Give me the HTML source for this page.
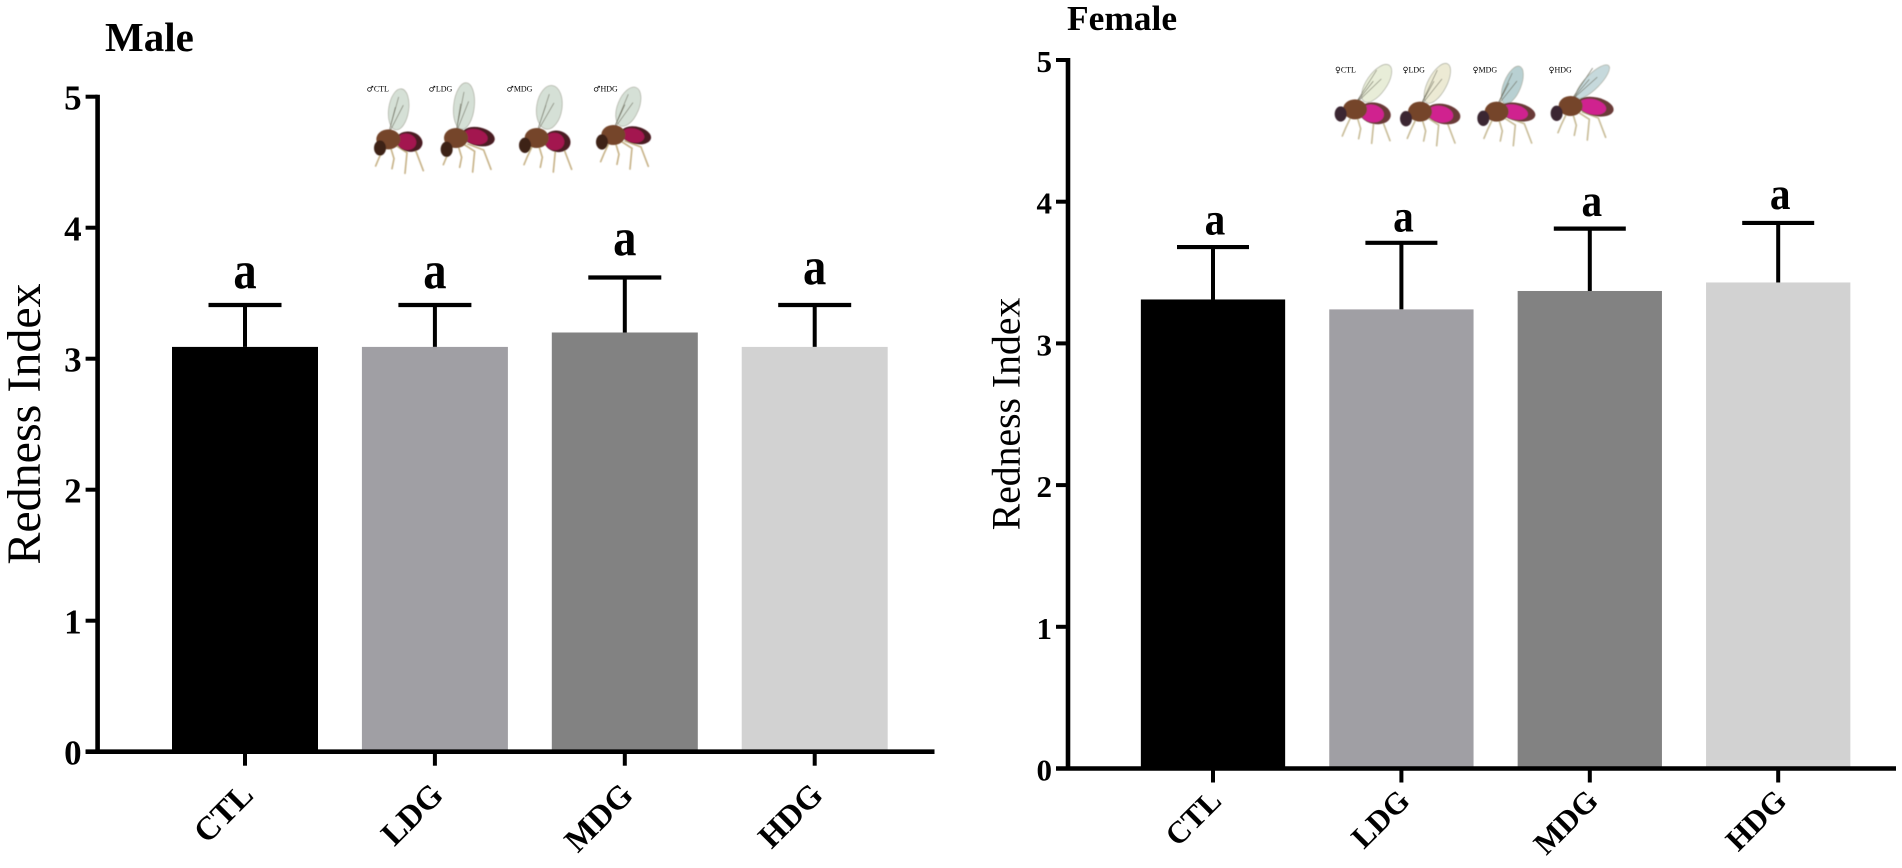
<!DOCTYPE html>
<html lang="en">
<head>
<meta charset="utf-8">
<title>Redness Index - Male and Female</title>
<style>
  html, body { margin: 0; padding: 0; background: #fff; }
  body { width: 1902px; height: 868px; overflow: hidden; }
  svg { display: block; }
  text { font-family: "Liberation Serif", "DejaVu Serif", serif; fill: #000; }
</style>
</head>
<body>
<svg id="figure" xmlns="http://www.w3.org/2000/svg" width="1902" height="868" viewBox="0 0 1902 868">
  <defs>
    <filter id="soft" x="-20%" y="-20%" width="140%" height="140%"><feGaussianBlur stdDeviation="1.5"></feGaussianBlur></filter>
  </defs>
  <g id="male-panel"></g>
  <g id="female-panel"></g>
</svg>
<script>
// Chart data
const categories = ["CTL", "LDG", "MDG", "HDG"];
const yTickLabels = [0, 1, 2, 3, 4, 5];
const barColors = ["#000000", "#a09fa4", "#828282", "#d2d2d2"];
const significanceLetters = ["a", "a", "a", "a"];

const maleValues = [3.09, 3.09, 3.2, 3.09];
const maleErrors = [0.32, 0.32, 0.42, 0.32];
const maleLetterLevels = [3.54, 3.54, 3.79, 3.57];

const femaleValues = [3.31, 3.24, 3.37, 3.43];
const femaleErrors = [0.37, 0.47, 0.44, 0.42];
const femaleLetterLevels = [3.77, 3.79, 3.9, 3.95];

const SVG_NS = "http://www.w3.org/2000/svg";

function el(parent, tag, attrs, content) {
  const node = document.createElementNS(SVG_NS, tag);
  for (const key in attrs) node.setAttribute(key, attrs[key]);
  if (content !== undefined) node.textContent = content;
  parent.appendChild(node);
  return node;
}

function drawPanel(root, cfg) {
  const yScale = v => cfg.y0 + (cfg.y5 - cfg.y0) * v / 5;
  const xScale = i => cfg.firstCenter + cfg.step * i;
  const barX = cfg.barWidth / 2;

  const title = el(root, "text", { x: cfg.titleX, y: cfg.titleY, "font-size": cfg.titleSize, "font-weight": "bold" }, cfg.title);
  
  

  const yTitle = el(root, "text", {
    transform: "translate(" + cfg.yTitleX + "," + cfg.yTitleY + ") rotate(-90)",
    "text-anchor": "middle", "font-size": cfg.yTitleSize
  }, "Redness Index");
  
  

  cfg.values.forEach((value, i) => {
    const cx = xScale(i);

    const errorTop = yScale(value + cfg.errors[i]);
    const stem = el(root, "line", { x1: cx, x2: cx, y1: yScale(value), y2: errorTop, stroke: "#000", "stroke-width": 4 });
    
    

    const cap = el(root, "line", { x1: cx - cfg.capWidth / 2, x2: cx + cfg.capWidth / 2, y1: errorTop, y2: errorTop, stroke: "#000", "stroke-width": 4.2 });
    
    

    const bar = el(root, "rect", { x: cx - barX, y: yScale(value), width: cfg.barWidth, height: yScale(0) - yScale(value), fill: barColors[i] });
    
    

    const letter = el(root, "text", {
      transform: "translate(" + (cx + cfg.letterDx) + "," + yScale(cfg.letters[i]) + ") scale(0.88,1)",
      "text-anchor": "middle", "font-size": cfg.letterSize, "font-weight": "bold"
    }, significanceLetters[i]);
    
    

    const tick = el(root, "line", { x1: cx, x2: cx, y1: yScale(0), y2: yScale(0) + 14, stroke: "#000", "stroke-width": 4 });
    
    

    const label = el(root, "text", {
      transform: "translate(" + (cx + 10) + "," + (yScale(0) + cfg.xLabelDy) + ") rotate(-45)",
      "text-anchor": "end", "font-size": cfg.xLabelSize, "font-weight": "bold"
    }, categories[i]);
    
    
  });

  yTickLabels.forEach(v => {
    const y = yScale(v);
    const tick = el(root, "line", { x1: cfg.axisX - 12, x2: cfg.axisX, y1: y, y2: y, stroke: "#000", "stroke-width": 4 });
    
    

    const label = el(root, "text", { x: cfg.axisX - 16, y: y + cfg.yLabelDy, "text-anchor": "end", "font-size": cfg.yLabelSize, "font-weight": "bold" }, String(v));
    
    
  });

  const yAxis = el(root, "line", { x1: cfg.axisX, x2: cfg.axisX, y1: yScale(5) - 2, y2: yScale(0) + 2, stroke: "#000", "stroke-width": 4.6 });
  
  

  const xAxis = el(root, "line", { x1: cfg.axisX - 12, x2: cfg.axisEnd, y1: yScale(0), y2: yScale(0), stroke: "#000", "stroke-width": 4.6 });
  
  
}

// Fly illustrations: drawn in 3x crop units, then scaled into place
function drawFly(parent, f) {
  const g = el(parent, "g", {});
  
  

  const art = el(g, "g", { filter: "url(#soft)" });
  el(art, "ellipse", { cx: f.wx, cy: f.wy, rx: f.wrx, ry: f.wry, fill: f.wing, stroke: "#a8aa9c", "stroke-width": 2, transform: "rotate(" + f.wr + " " + f.wx + " " + f.wy + ")" });
  el(art, "path", { d: "M" + f.tx + " " + (f.ty - 15) + " L" + f.wx + " " + (f.wy - f.wry * 0.6) + " M" + f.tx + " " + (f.ty - 15) + " L" + (f.wx + 14) + " " + (f.wy - f.wry * 0.2) + " M" + f.tx + " " + (f.ty - 15) + " L" + (f.wx - 10) + " " + (f.wy - f.wry * 0.1), stroke: "#70705f", "stroke-width": 2, fill: "none" });
  el(art, "path", { d: "M" + (f.tx - 10) + " " + (f.ty + 18) + " l-18 38 l-10 24 M" + (f.tx + 5) + " " + (f.ty + 18) + " l12 40 l-6 30 M" + (f.tx + 22) + " " + (f.ty + 18) + " l34 22 l-6 62 M" + (f.tx + 35) + " " + (f.ty + 18) + " l48 18 l22 58", stroke: f.leg, "stroke-width": 5, fill: "none", "stroke-linecap": "round" });
  el(art, "ellipse", { cx: f.ax, cy: f.ay, rx: f.arx, ry: f.ary, fill: f.abdomenEdge, transform: "rotate(12 " + f.ax + " " + f.ay + ")" });
  el(art, "ellipse", { cx: f.ax - 8, cy: f.ay + 2, rx: f.arx * 0.74, ry: f.ary * 0.82, fill: f.abdomen, transform: "rotate(12 " + f.ax + " " + f.ay + ")" });
  el(art, "ellipse", { cx: f.tx, cy: f.ty, rx: 36, ry: 30, fill: "#75452a" });
  el(art, "ellipse", { cx: f.hx, cy: f.hy, rx: 18, ry: 23, fill: f.head });

  const tag = el(g, "text", { x: f.lx, y: f.ly, "font-size": 24 });
  
  
  el(tag, "tspan", { style: 'font-family:"DejaVu Sans",sans-serif' }, f.symbol);
  el(tag, "tspan", {}, f.label);
}

const malePanel = document.getElementById("male-panel");
drawPanel(malePanel, {
  title: "Male", titleX: 105, titleY: 51, titleSize: 41,
  yTitleX: 40, yTitleY: 424, yTitleSize: 48,
  y0: 751.7, y5: 96.7, axisX: 97.6, axisEnd: 934.5,
  firstCenter: 245, step: 189.9, barWidth: 146, capWidth: 73,
  values: maleValues, errors: maleErrors, letters: maleLetterLevels,
  letterSize: 53, letterDx: 0,
  xLabelDy: 45, xLabelSize: 33, yLabelDy: 13, yLabelSize: 35
});

const femalePanel = document.getElementById("female-panel");
drawPanel(femalePanel, {
  title: "Female", titleX: 1067, titleY: 30, titleSize: 35.4,
  yTitleX: 1019.5, yTitleY: 414, yTitleSize: 39.7,
  y0: 768.5, y5: 60, axisX: 1068, axisEnd: 1896,
  firstCenter: 1213, step: 188.4, barWidth: 144.3, capWidth: 72,
  values: femaleValues, errors: femaleErrors, letters: femaleLetterLevels,
  letterSize: 47, letterDx: 2,
  xLabelDy: 34, xLabelSize: 31, yLabelDy: 12, yLabelSize: 31
});

const maleFlies = el(malePanel, "g", { transform: "translate(350,70) scale(0.3333)" });


[
  { symbol: "♂", label: "CTL", lx: 50, ly: 64, wx: 146, wy: 118, wrx: 30, wry: 62, wr: 8, tx: 115, ty: 208, ax: 178, ay: 215, arx: 40, ary: 30, hx: 90, hy: 234 },
  { symbol: "♂", label: "LDG", lx: 236, ly: 64, wx: 342, wy: 108, wrx: 31, wry: 70, wr: 6, tx: 318, ty: 204, ax: 385, ay: 200, arx: 50, ary: 28, hx: 290, hy: 238 },
  { symbol: "♂", label: "MDG", lx: 470, ly: 64, wx: 598, wy: 112, wrx: 38, wry: 66, wr: 8, tx: 560, ty: 204, ax: 622, ay: 214, arx: 40, ary: 32, hx: 525, hy: 226 },
  { symbol: "♂", label: "HDG", lx: 730, ly: 64, wx: 835, wy: 110, wrx: 32, wry: 62, wr: 22, tx: 790, ty: 195, ax: 858, ay: 196, arx: 46, ary: 26, hx: 756, hy: 216 }
].forEach(f => drawFly(maleFlies, Object.assign({ wing: "#d5e0d6", abdomen: "#a3154f", abdomenEdge: "#4a1a22", head: "#3c2219", leg: "#c8b48a" }, f)));

const femaleFlies = el(femalePanel, "g", { transform: "translate(1320,50) scale(0.3333)" });


[
  { symbol: "♀", label: "CTL", lx: 45, ly: 67, wx: 170, wy: 100, wrx: 30, wry: 66, wr: 35, wing: "#e8edd8", tx: 105, ty: 178, ax: 165, ay: 190, arx: 48, ary: 32, hx: 62, hy: 192 },
  { symbol: "♀", label: "LDG", lx: 248, ly: 67, wx: 352, wy: 100, wrx: 28, wry: 66, wr: 28, wing: "#ecead4", tx: 300, ty: 185, ax: 370, ay: 192, arx: 52, ary: 30, hx: 258, hy: 206 },
  { symbol: "♀", label: "MDG", lx: 458, ly: 67, wx: 577, wy: 105, wrx: 26, wry: 60, wr: 22, wing: "#b8d0d2", tx: 530, ty: 185, ax: 592, ay: 186, arx: 55, ary: 27, hx: 490, hy: 205 },
  { symbol: "♀", label: "HDG", lx: 686, ly: 67, wx: 818, wy: 95, wrx: 22, wry: 68, wr: 45, wing: "#c6d9dc", tx: 752, ty: 168, ax: 826, ay: 170, arx: 56, ary: 28, hx: 710, hy: 190 }
].forEach(f => drawFly(femaleFlies, Object.assign({ abdomen: "#d0218f", abdomenEdge: "#6b3b38", head: "#3b2530", leg: "#c9bd9a" }, f)));
</script>
</body>
</html>
